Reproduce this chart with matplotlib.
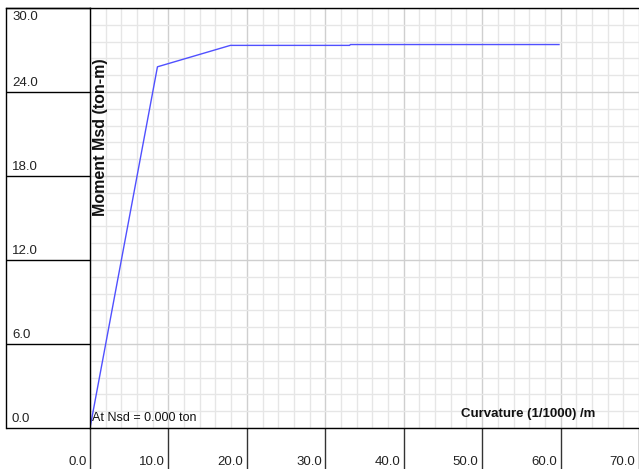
import matplotlib
matplotlib.use('Agg')
import matplotlib.pyplot as plt
import matplotlib.transforms as mtransforms
from matplotlib.lines import Line2D
import numpy as np

# moment-curvature curve
curvature = [0.0, 8.6, 17.9, 33.1, 33.2, 59.8]
moment = [0.0, 25.8, 27.33, 27.33, 27.39, 27.39]

x_major = [0.0, 10.0, 20.0, 30.0, 40.0, 50.0, 60.0, 70.0]
y_major = [0.0, 6.0, 12.0, 18.0, 24.0, 30.0]

plt.rcParams['font.family'] = ['Liberation Sans', 'DejaVu Sans']

W, H = 639, 469
fig = plt.figure(figsize=(W / 100, H / 100), dpi=100)

# axes box in pixels
left, right, top, bottom = 90, 639, 8, 428
ax = fig.add_axes([left / W, (H - bottom) / H, (right - left) / W, (bottom - top) / H])

ax.plot(curvature, moment, color='#5050ff', lw=1.0)

ax.set_xlim(0, (right - left) / 7.933)
ax.set_ylim(0, 30)

ax.set_xticks(x_major)
ax.set_xticks(np.arange(0, 72, 2), minor=True)
ax.set_yticks(y_major)
ax.set_yticks(np.arange(0, 30.1, 1.2), minor=True)
ax.grid(which='minor', color='#e6e6e6', lw=1.0)
ax.grid(which='major', color='#cfcfcf', lw=1.0)
ax.set_axisbelow(True)

# long outward ticks act as ruler lines
ax.tick_params(axis='y', which='major', direction='out', length=84 * 0.72, width=1.0,
               color='black', labelleft=False)
ax.tick_params(axis='x', which='major', direction='out', length=41 * 0.72, width=1.0,
               color='#333333', labelbottom=False)
ax.tick_params(which='minor', length=0)

for s in ['left', 'bottom', 'top']:
    ax.spines[s].set_color('black')
    ax.spines[s].set_linewidth(1.0)
ax.spines['right'].set_visible(False)

# outer border at left and top
fig.add_artist(Line2D([6 / W, 6 / W], [(H - bottom) / H, (H - top) / H], color='black', lw=1.0))
fig.add_artist(Line2D([6 / W, left / W], [(H - top) / H, (H - top) / H], color='black', lw=1.0))

# tick labels
ytrans = mtransforms.blended_transform_factory(fig.transFigure, ax.transData)
for v in y_major:
    if v == y_major[-1]:
        ax.text(12 / W, v - 0.25, f'{v:.1f}', transform=ytrans, ha='left', va='top',
                fontsize=9.5, color='#222222', clip_on=False)
    else:
        ax.text(12 / W, v + 0.25, f'{v:.1f}', transform=ytrans, ha='left', va='bottom',
                fontsize=9.5, color='#222222', clip_on=False)
xtrans = mtransforms.blended_transform_factory(ax.transData, fig.transFigure)
for v in x_major:
    ax.text(v - 0.45, (H - 462) / H, f'{v:.1f}', transform=xtrans, ha='right', va='center',
            fontsize=9.5, color='#222222', clip_on=False)

ax.text(0.3, 0.3, 'At Nsd = 0.000 ton', fontsize=9, ha='left', va='bottom', color='#111111')
ax.text(47.3, 0.55, 'Curvature (1/1000) /m', fontsize=9.5, fontweight='bold',
        ha='left', va='bottom', color='#111111')
ax.text(1.3, 26.4, 'Moment Msd (ton-m)', fontsize=11.5, fontweight='bold', rotation=90,
        ha='center', va='top', color='#111111')

fig.savefig('out.png', dpi=100)
